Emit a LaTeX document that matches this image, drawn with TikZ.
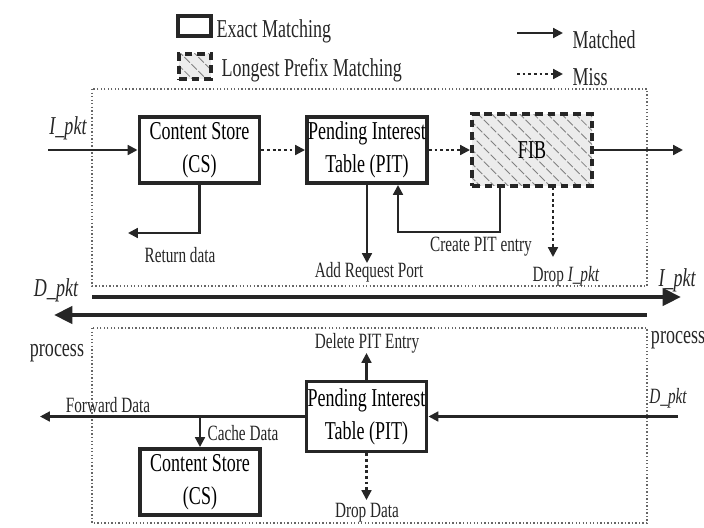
\documentclass[tikz,border=0pt]{standalone}
\usepackage{fontspec}
\setmainfont{Liberation Serif}[FakeStretch=0.7]
\usetikzlibrary{arrows.meta,patterns.meta}
\newcommand\boxfont{\fontsize{18.3}{23.5}\selectfont}
\newcommand\bigtext{\fontsize{18.3}{22}\selectfont}
\newcommand\lbltext{\fontsize{15.5}{18}\selectfont}
\tikzset{
  exact/.style={draw=black!85, line width=2.8pt, align=center, font=\boxfont,
    inner sep=0pt, minimum width=3cm, minimum height=1.65cm},
  lpm/.style={exact, dash pattern=on 5.5pt off 3.5pt, preaction={fill=gray!15},
    pattern={Lines[angle=-45,distance=7pt,line width=.6pt]}, pattern color=gray},
  hit/.style={draw=black!85, line width=1.5pt, -{Triangle[length=7pt,width=7pt]}},
  miss/.style={hit, dash pattern=on 2pt off 2pt},
  bigarrow/.style={draw=black!85, line width=3pt, -{Triangle[length=13pt,width=12pt]}},
  region/.style={draw=black!60, line width=1pt, dash pattern=on 1pt off 1.5pt},
  lbl/.style={font=\lbltext, inner sep=1pt, text=black!85},
  big/.style={font=\bigtext, inner sep=1pt, text=black!85}
}
\begin{document}
\begin{tikzpicture}[x=0.025cm,y=-0.025cm]
    \useasboundingbox (0,0) rectangle (704,527);
    % legend
    \node[exact, minimum width=.83cm, minimum height=.5cm] (kexact) at (194.5,26) {};
    \node[lpm, minimum width=.8cm, minimum height=.63cm] (klpm) at (195,66.5) {};
    \node[big, anchor=west] (texact) at (215,31) {Exact Matching};
    \node[big, anchor=west] (tlpm) at (220,70) {Longest Prefix Matching};
    \coordinate (m1) at (517,33);
    \coordinate (m2) at (563,33);
    \coordinate (s1) at (517,74);
    \coordinate (s2) at (563,74);
    \draw[hit] (m1) -- (m2);
    \draw[miss] (s1) -- (s2);
    \node[big, anchor=west] (tmatch) at (571,40) {Matched};
    \node[big, anchor=west] (tmiss) at (571,77) {Miss};
    % regions
    \draw[region] (92,89) rectangle (647,286);
    \draw[region] (92,328) rectangle (647,523);
    % interest path
    \node[exact] (cs1) at (199.5,150) {Content Store\\(CS)};
    \node[exact] (pit1) at (367,150) {Pending Interest\\Table (PIT)};
    \node[lpm, minimum height=1.78cm] (fib) at (532,150) {FIB};
    \coordinate (iin) at (48,150);
    \coordinate (iout) at (683,150);
    \coordinate (ret) at (128,233);
    \coordinate (arp) at (367,263);
    \coordinate (cpe) at (500,232);
    \coordinate (cpt) at (398,232);
    \coordinate (dri) at (553,257);
    \draw[hit] (iin) -- (cs1);
    \draw[miss] (cs1) -- (pit1);
    \draw[miss] (pit1) -- (fib);
    \draw[hit] (fib) -- (iout);
    \draw[hit] (cs1.south) |- (ret);
    \draw[hit] (pit1.south) -- (arp);
    \draw[hit] (cpe |- fib.south) -- (cpe) -- (cpt) -- (cpt |- pit1.south);
    \draw[miss] (dri |- fib.south) -- (dri);
    \node[big] (lipkt) at (68,128) {\itshape I\_pkt};
    \node[lbl] (lret) at (180,255) {Return data};
    \node[lbl] (larp) at (369,272) {Add Request Port};
    \node[lbl] (lcpe) at (481,247) {Create PIT entry};
    \node[lbl] (ldri) at (566,276) {Drop \textit{I\_pkt}};
    % direction arrows
    \coordinate (r1) at (92,297);
    \coordinate (r2) at (681,297);
    \coordinate (l1) at (647,315);
    \coordinate (l2) at (54,315);
    \draw[bigarrow] (r1) -- (r2);
    \draw[bigarrow] (l1) -- (l2);
    \node[big] (ldpkt) at (56,290) {\itshape D\_pkt};
    \node[big] (ripkt) at (677,280) {\itshape I\_pkt};
    \node[big] (lproc) at (57,353) {process};
    \node[big] (rproc) at (678,340) {process};
    % data path
    \node[exact, minimum height=1.75cm] (pit2) at (366.5,416.5) {Pending Interest\\Table (PIT)};
    \node[exact] (cs2) at (200,482) {Content Store\\(CS)};
    \coordinate (din) at (678,416.5);
    \coordinate (fwd) at (40,416.5);
    \coordinate (cache) at (200,416.5);
    \coordinate (del) at (366.5,353);
    \coordinate (dd) at (366.5,500);
    \draw[hit] (din) -- (pit2);
    \draw[hit] (pit2) -- (fwd);
    \draw[hit] (cache) -- (cs2);
    \draw[hit] (pit2) -- (del);
    \draw[miss] (pit2) -- (dd);
    \node[lbl] (ldel) at (367,343) {Delete PIT Entry};
    \node[lbl] (ldin) at (668,398) {\itshape D\_pkt};
    \node[lbl] (lfwd) at (108,405) {Forward Data};
    \node[lbl] (lcache) at (243,433) {Cache Data};
    \node[lbl] (ldd) at (367,513) {Drop Data};
\end{tikzpicture}
\end{document}
